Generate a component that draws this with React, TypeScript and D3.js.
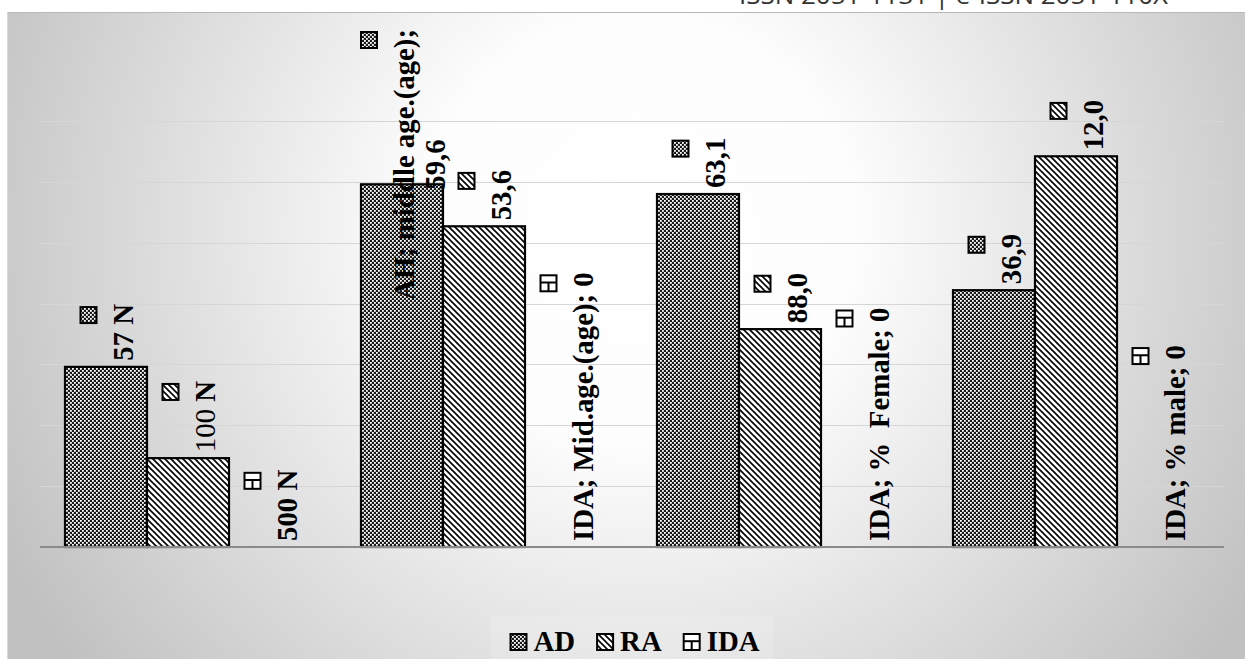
import React from "react";
import * as d3 from "d3";

const categories = ["N", "Middle age", "% Female", "% Male"];
const seriesNames = ["AD", "RA", "IDA"];
const valuesAD = [29.6, 59.6, 58.0, 42.2];
const valuesRA = [14.6, 52.7, 35.8, 64.2];
const valuesIDA = [0, 0, 0, 0];
const labelsAD = [["57 N"], ["AH; middle age.(age);", "59,6"], ["63,1"], ["36,9"]];
const labelsRA = [["100 N"], ["53,6"], ["88,0"], ["12,0"]];
const labelsIDA = [["500 N"], ["IDA; Mid.age.(age); 0"], ["IDA; %  Female; 0"], ["IDA; % male; 0"]];
const regularParts = ["100"];
const yTicks = [0, 10, 20, 30, 40, 50, 60, 70];
const headerText = "ISSN 2051-1131 | e-ISSN 2051-110X";

const W = 1245;
const H = 659;
const FONT = "'Liberation Serif', 'Times New Roman', serif";
const FS = 28.8;

let ctx: CanvasRenderingContext2D | null = null;
function measure(t: string, weight = "bold") {
  if (!ctx) ctx = document.createElement("canvas").getContext("2d");
  if (!ctx) return t.length * FS * 0.5;
  ctx.font = `${weight} ${FS}px ${FONT}`;
  return ctx.measureText(t).width;
}

function Key({ s, cx, cy }: { s: string; cx: number; cy: number }) {
  const k = 16;
  const x = cx - k / 2;
  const y = cy - k / 2;
  if (s === "IDA") {
    return (
      <g>
        <rect x={x} y={y} width={k} height={k} fill="#fff" stroke="#000" strokeWidth={2} />
        <line x1={x} x2={x + k} y1={y + k * 0.45} y2={y + k * 0.45} stroke="#000" strokeWidth={2} />
        <line x1={cx} x2={cx} y1={y + k * 0.45} y2={y + k} stroke="#000" strokeWidth={2} />
      </g>
    );
  }
  return (
    <rect x={x} y={y} width={k} height={k} fill={`url(#pat-${s})`} stroke="#000" strokeWidth={2} />
  );
}

export default function App() {
  const x0 = 40, x1 = 1224, yBase = 547, yTop = 121;
  const x = d3.scaleBand<string>().domain(categories).range([x0, x1]).paddingInner(50 / 296).paddingOuter(25 / 296);
  const xi = d3.scaleBand<string>().domain(seriesNames).range([0, x.bandwidth()]);
  const y = d3.scaleLinear().domain([0, 70]).range([yBase, yTop]);

  const series = [
    { name: "AD", values: valuesAD, labels: labelsAD },
    { name: "RA", values: valuesRA, labels: labelsRA },
    { name: "IDA", values: valuesIDA, labels: labelsIDA },
  ];

  const legendItems = seriesNames.map((s) => ({ s, w: measure(s) }));
  const legendTotal = legendItems.reduce((a, it) => a + 16 + 7 + it.w, 0) + 22 * (legendItems.length - 1);
  let lx = 635 - legendTotal / 2;
  const legendPos = legendItems.map((it) => {
    const p = { ...it, kx: lx + 8, tx: lx + 23 };
    lx += 16 + 7 + it.w + 22;
    return p;
  });

  const renderLine = (line: string) => {
    const reg = regularParts.find((r) => line.startsWith(r));
    if (reg) {
      return (
        <>
          <tspan fontWeight="normal">{reg}</tspan>
          <tspan fontWeight="bold">{line.slice(reg.length)}</tspan>
        </>
      );
    }
    return line;
  };

  return (
    <svg width={W} height={H} style={{ position: "fixed", left: 0, top: 0 }} fontFamily={FONT}>
      <defs>
        <radialGradient id="bg" gradientUnits="userSpaceOnUse" cx={640} cy={230} r={720}>
          <stop offset="0" stopColor="#ffffff" />
          <stop offset="0.3" stopColor="#fdfdfd" />
          <stop offset="1" stopColor="#c0c0c0" />
        </radialGradient>
        <pattern id="pat-AD" patternUnits="userSpaceOnUse" width={4} height={4}>
          <rect width={4} height={4} fill="#1a1a1a" />
          <rect x={0} y={0} width={1.8} height={1.8} fill="#fff" />
          <rect x={2} y={2} width={1.8} height={1.8} fill="#fff" />
        </pattern>
        <pattern id="pat-RA" patternUnits="userSpaceOnUse" width={6} height={6}>
          <rect width={6} height={6} fill="#fff" />
          <path d="M0,0 L6,6 M-1,5 L1,7 M5,-1 L7,1" stroke="#000" strokeWidth={1.6} />
        </pattern>
      </defs>
      <rect x={0} y={0} width={W} height={H} fill="#fff" />
      <text x={739} y={4} fontFamily="'Open Sans', sans-serif" fontSize={24} fill="#333" textLength={429} lengthAdjust="spacingAndGlyphs">{headerText}</text>
      <rect x={7} y={12} width={W} height={H} fill="url(#bg)" />
      <line x1={7} x2={W} y1={12.5} y2={12.5} stroke="#b8b8b8" />
      <line x1={7.5} x2={7.5} y1={12} y2={H} stroke="#d8d8d8" />

      {yTicks.filter((t) => t > 0).map((t) => (
        <line key={t} x1={x0} x2={x1} y1={Math.round(y(t)) + 0.5} y2={Math.round(y(t)) + 0.5} stroke="#d6d6d6" strokeWidth={1.2} />
      ))}

      {series.map((s) =>
        s.values.map((v, i) =>
          v > 0 ? (
            <rect
              key={s.name + i}
              x={(x(categories[i]) ?? 0) + (xi(s.name) ?? 0)}
              y={y(v)}
              width={xi.bandwidth()}
              height={yBase - y(v)}
              fill={`url(#pat-${s.name})`}
              stroke="#000"
              strokeWidth={2.2}
            />
          ) : null
        )
      )}

      <line x1={x0} x2={x1} y1={yBase} y2={yBase} stroke="#8a8a8a" strokeWidth={1.8} />

      {series.map((s) =>
        s.values.map((v, i) => {
          const bc = (x(categories[i]) ?? 0) + (xi(s.name) ?? 0) + xi.bandwidth() / 2;
          const lines = s.labels[i];
          const lmax = Math.max(...lines.map((l) => measure(l)));
          let top = y(v) - 6 - lmax;
          if (top < 29) top = 29;
          const cy = top + lmax / 2;
          const span = 35 + (lines.length - 1) * 31;
          const keyX = bc - span / 2;
          return (
            <g key={"lab" + s.name + i}>
              <Key s={s.name} cx={keyX} cy={top + 11} />
              {lines.map((l, j) => (
                <text
                  key={j}
                  transform={`translate(${keyX + 35 + j * 31},${cy}) rotate(-90)`}
                  textAnchor="middle"
                  y={FS * 0.33}
                  fontSize={FS}
                  fontWeight="bold"
                  fill="#000"
                  style={{ whiteSpace: "pre" }}
                >
                  {renderLine(l)}
                </text>
              ))}
            </g>
          );
        })
      )}

      <rect x={490} y={616} width={283} height={50} fill="#fff" opacity={0.15} />
      {legendPos.map((p) => (
        <g key={p.s}>
          <Key s={p.s} cx={p.kx} cy={642} />
          <text x={p.tx} y={651} fontSize={FS} fontWeight="bold" fill="#000">{p.s}</text>
        </g>
      ))}
    </svg>
  );
}
